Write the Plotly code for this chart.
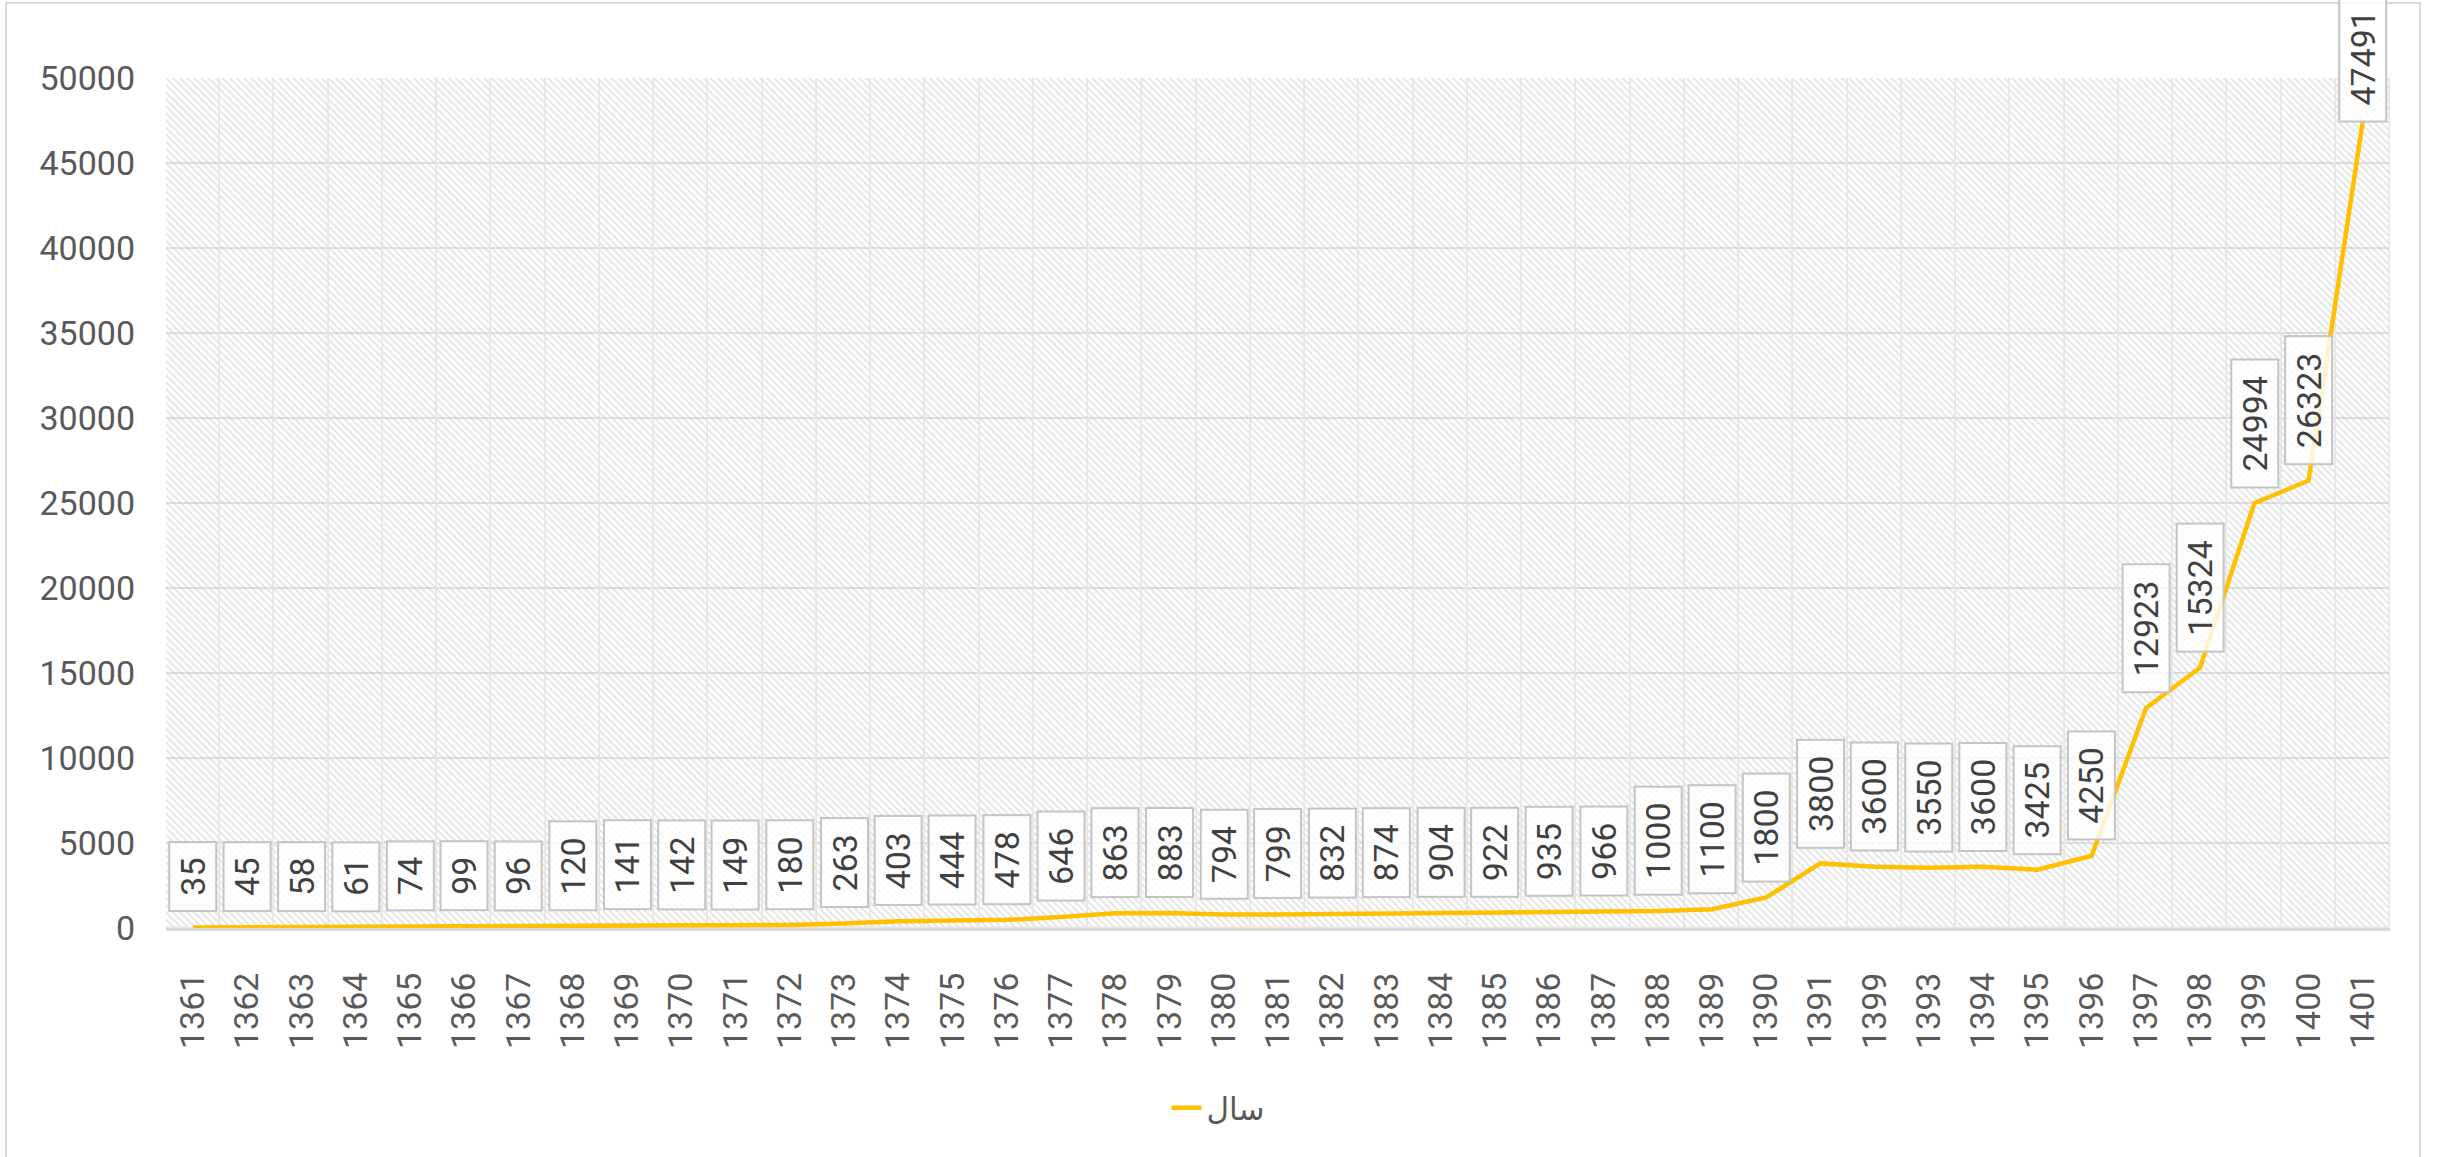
import plotly.graph_objects as go

years = ["1361", "1362", "1363", "1364", "1365", "1366", "1367", "1368", "1369", "1370",
         "1371", "1372", "1373", "1374", "1375", "1376", "1377", "1378", "1379", "1380",
         "1381", "1382", "1383", "1384", "1385", "1386", "1387", "1388", "1389", "1390",
         "1391", "1399", "1393", "1394", "1395", "1396", "1397", "1398", "1399", "1400",
         "1401"]
values = [35, 45, 58, 61, 74, 99, 96, 120, 141, 142,
          149, 180, 263, 403, 444, 478, 646, 863, 883, 794,
          799, 832, 874, 904, 922, 935, 966, 1000, 1100, 1800,
          3800, 3600, 3550, 3600, 3425, 4250, 12923, 15324, 24994, 26323,
          47491]
series_name = "سال"
y_ticks = [0, 5000, 10000, 15000, 20000, 25000, 30000, 35000, 40000, 45000, 50000]

FONT = "Roboto, DejaVu Sans, sans-serif"
idx = list(range(len(years)))
ymax = y_ticks[-1]

fig = go.Figure()

# hatched plot-area background (one patterned band per category)
fig.add_trace(go.Bar(
    x=idx, y=[ymax] * len(idx), width=1,
    marker=dict(color="rgba(0,0,0,0)",
                line=dict(color="#e6e6e6", width=1.5),
                pattern=dict(shape="\\", fgcolor="#c8c8c8", bgcolor="rgba(0,0,0,0)",
                             size=5, solidity=0.35, fillmode="overlay")),
    showlegend=False, hoverinfo="skip"))

fig.add_trace(go.Scatter(
    x=idx, y=values, mode="lines", name=series_name,
    line=dict(color="#FFC000", width=4.5)))

# data labels
for i, v in enumerate(values):
    n = len(str(v))
    top = v > 0.9 * ymax
    fig.add_annotation(
        x=i, y=v, xref="x", yref="y", text=str(v), showarrow=False,
        textangle=-90, xanchor="center", yanchor="bottom",
        yshift=-2 if top else 15,
        width=26 + 19.5 * n, height=43,
        font=dict(family=FONT, size=34, color="#404040"),
        bgcolor="rgba(255,255,255,0.8)", bordercolor="#c4c4c4",
        borderwidth=2, borderpad=1)

W, H = 2437, 1157
L, R, T, B = 166, 47, 78, 229
pw, ph = W - L - R, H - T - B

# outer chart-area border
fig.add_shape(type="rect", xref="paper", yref="paper",
              x0=(6 - L) / pw, x1=(2420 - L) / pw,
              y0=(T + ph - 3) / ph, y1=-(B + 5) / ph,
              line=dict(color="#d9d9d9", width=2), fillcolor="rgba(0,0,0,0)",
              layer="below")

fig.update_layout(
    width=W, height=H,
    margin=dict(l=L, r=R, t=T, b=B),
    paper_bgcolor="white", plot_bgcolor="white",
    bargap=0,
    font=dict(family=FONT, color="#595959"),
    showlegend=True,
    legend=dict(orientation="h", x=(1218 - L) / pw, xanchor="center",
                y=-(1108 - T - ph) / ph, yanchor="middle",
                font=dict(size=31, color="#595959", family=FONT),
                bgcolor="rgba(0,0,0,0)"),
    xaxis=dict(range=[-0.5, len(idx) - 0.5], tickmode="array", tickvals=idx,
               ticktext=years, tickangle=-90, showgrid=False, zeroline=False,
               showline=True, linecolor="#d9d9d9", linewidth=3,
               ticks="", ticklabelstandoff=28,
               tickfont=dict(size=34, color="#595959", family=FONT)),
    yaxis=dict(range=[0, ymax], tickmode="array", tickvals=y_ticks,
               ticktext=[str(t) for t in y_ticks],
               showgrid=True, gridcolor="#e0e0e0", gridwidth=2,
               zeroline=False, showline=False, ticks="", ticklabelstandoff=30,
               tickfont=dict(size=34, color="#595959", family=FONT)),
)

fig.write_html("out.html", config={"displayModeBar": False},
               post_script="document.body.style.margin='0';document.body.style.overflow='hidden';")
